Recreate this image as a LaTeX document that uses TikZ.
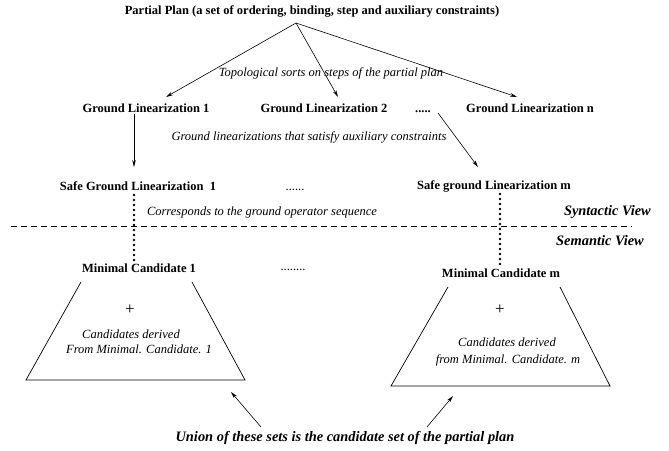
\documentclass[tikz,border=0pt]{standalone}
\usepackage{fontspec}
\setmainfont{Liberation Serif}
\usetikzlibrary{arrows.meta}
\begin{document}
\begin{tikzpicture}[x=1pt,y=-1pt,
  lbl/.style={font=\fontsize{12.5}{14}\selectfont\bfseries, inner sep=0pt, text height=9pt, text depth=3pt},
  itl/.style={font=\fontsize{12.5}{14}\selectfont\itshape, inner sep=0pt, text height=9pt, text depth=3pt},
  bit/.style={font=\fontsize{14.4}{16}\selectfont\bfseries\itshape, inner sep=0pt, text height=10pt, text depth=3pt},
  rg/.style={font=\fontsize{12.5}{14}\selectfont, inner sep=0pt, text height=9pt, text depth=3pt},
  plus/.style={font=\fontsize{17}{18}\selectfont, inner sep=0pt},
  arr/.style={-{Stealth[length=7pt,width=3.6pt]}, line width=0.6pt},
  dotline/.style={line width=2.6pt, dash pattern=on 0pt off 5pt, line cap=round},
  trap/.style={line width=0.7pt},
  sepline/.style={line width=0.6pt, dash pattern=on 6pt off 4pt},
]
\useasboundingbox (0,0) rectangle (669,450);
% top
\node[lbl] (title) at (312,11) {Partial Plan (a set of ordering, binding, step and auxiliary constraints)};
\coordinate (apex) at (296,23);
\coordinate (e1) at (166,97);
\coordinate (e2) at (338,97);
\coordinate (e3) at (517,97);
\draw[arr] (apex) -- (e1);
\draw[arr] (apex) -- (e2);
\draw[arr] (apex) -- (e3);
\node[itl] (topo) at (331,73) {Topological sorts on steps of the partial plan};
% ground linearizations
\node[lbl] (gl1) at (146,109) {Ground Linearization 1};
\node[lbl] (gl2) at (324,109) {Ground Linearization 2};
\node[lbl] (gldots) at (423,109) {.....};
\node[lbl] (gln) at (530,109) {Ground Linearization n};
\coordinate (a1s) at (134,114);
\coordinate (a1e) at (134,167);
\draw[arr] (a1s) -- (a1e);
\coordinate (a2s) at (438,113);
\coordinate (a2e) at (478,167);
\draw[arr] (a2s) -- (a2e);
\node[itl] (satisfy) at (309,137) {Ground linearizations that satisfy auxiliary constraints};
% safe ground linearizations
\node[lbl] (sg1) at (138,187) {Safe Ground Linearization\ \ 1};
\node[rg] (sgdots) at (295,187) {......};
\node[lbl] (sgm) at (494,186) {Safe ground Linearization m};
\node[itl] (corr) at (262,212) {Corresponds to the ground operator sequence};
\node[bit, anchor=east] (syn) at (651,212) {Syntactic View};
\node[bit, anchor=east] (sem) at (644,242) {Semantic View};
\coordinate (dl) at (11,226);
\coordinate (dr) at (632,226);
\draw[sepline] (dl) -- (dr);
\coordinate (d1a) at (134,195);
\coordinate (d1b) at (134,262);
\draw[dotline] (d1a) -- (d1b);
\coordinate (d2a) at (500,194);
\coordinate (d2b) at (500,266);
\draw[dotline] (d2a) -- (d2b);
% minimal candidates
\node[lbl] (mc1) at (139,269) {Minimal Candidate 1};
\node[rg] (mcdots) at (293,267) {........};
\node[lbl] (mcm) at (501,274) {Minimal Candidate m};
\draw[trap] (81,282) -- (26,380) -- (245,380) -- (192,282);
\draw[trap] (448,287) -- (391,386) -- (610,386) -- (560,287);
\node[plus] (plus1) at (130,310) {+};
\node[plus] (plus2) at (500,310) {+};
\node[itl] (cd1) at (131,335) {Candidates derived};
\node[itl] (fm1) at (139,350) {From Minimal. Candidate. 1};
\node[itl] (cd2) at (507,343) {Candidates derived};
\node[itl] (fm2) at (508,360) {from Minimal. Candidate. m};
% union
\node[bit] (union) at (345,438) {Union of these sets is the candidate set of the partial plan};
\coordinate (u1s) at (261,427);
\coordinate (u1e) at (231,392);
\coordinate (u2s) at (427,427);
\coordinate (u2e) at (453,396);
\draw[arr] (u1s) -- (u1e);
\draw[arr] (u2s) -- (u2e);
\end{tikzpicture}
\end{document}
